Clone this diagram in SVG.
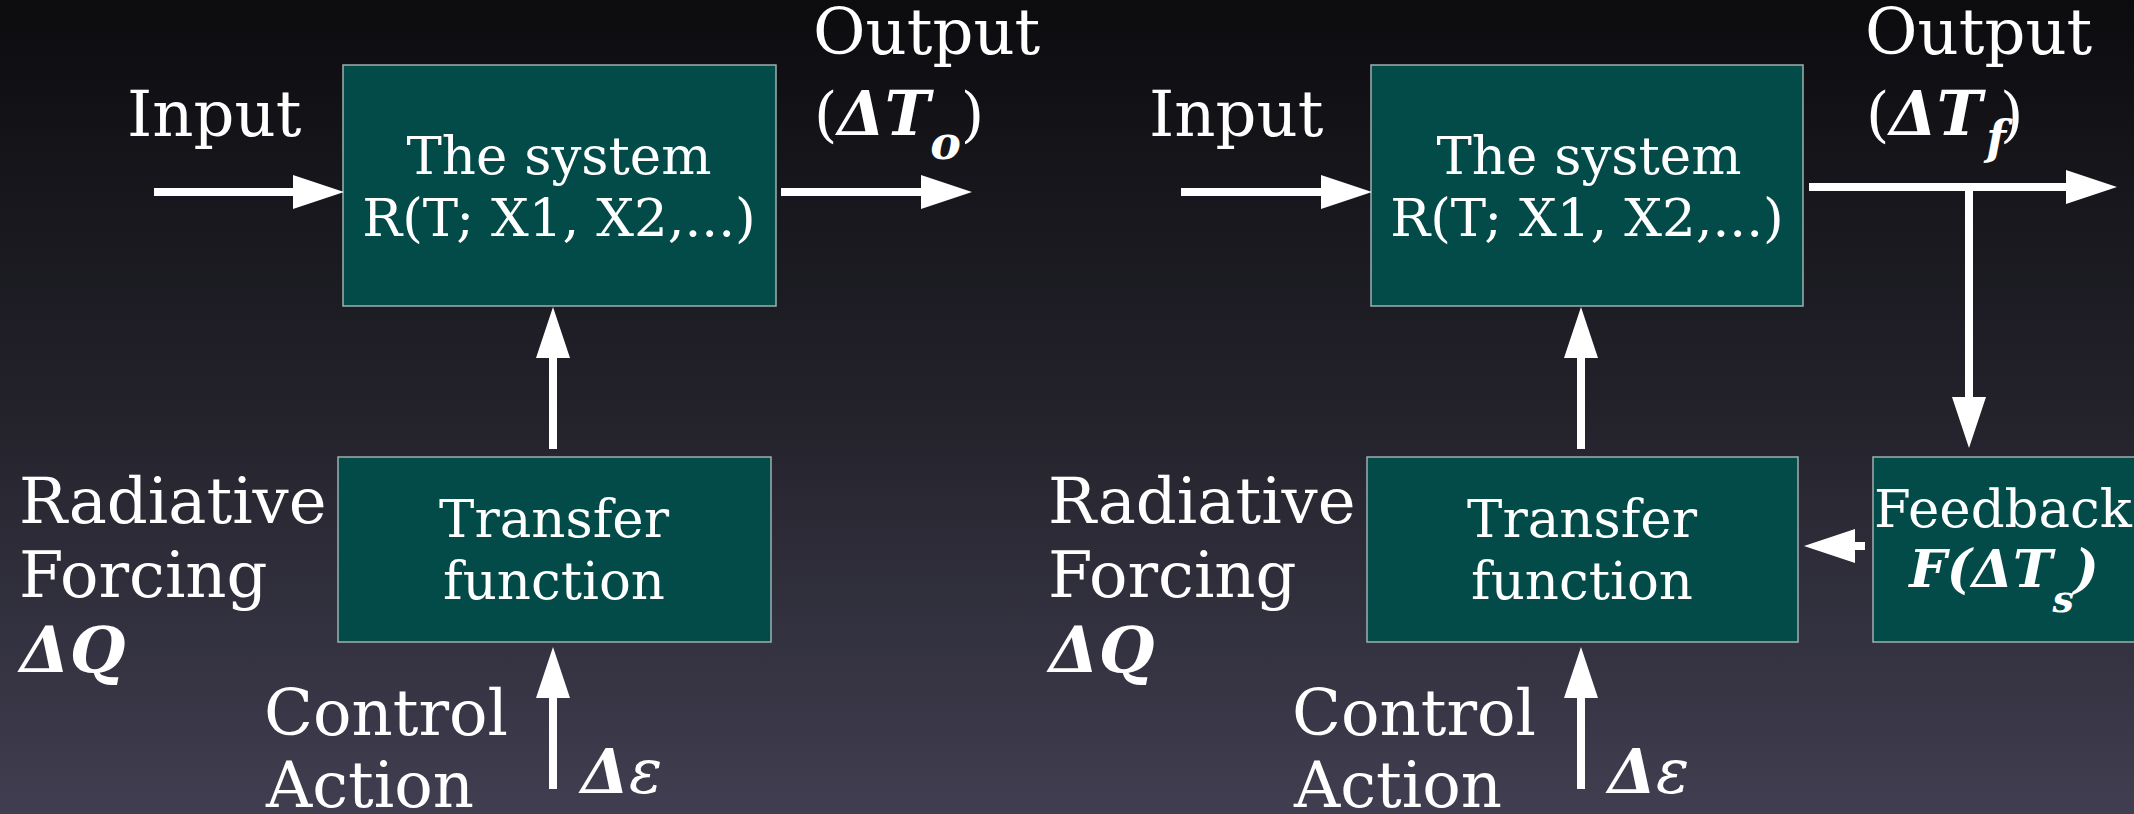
<svg xmlns="http://www.w3.org/2000/svg" width="2134" height="814" viewBox="0 0 2134 814">
  <defs>
    <linearGradient id="bg" x1="0" y1="0" x2="0" y2="1">
      <stop offset="0" stop-color="#0c0c0f"/>
      <stop offset="0.5" stop-color="#23222b"/>
      <stop offset="1" stop-color="#403e50"/>
    </linearGradient>
    <marker id="head" markerUnits="userSpaceOnUse" markerWidth="52" markerHeight="34" viewBox="0 0 52 34" refX="1" refY="17" orient="auto">
      <path d="M0,0 L51,17 L0,34 Z" fill="#ffffff"/>
    </marker>
    <style>
      text { font-family: "DejaVu Serif", "Liberation Serif", serif; fill: #ffffff; }
      .lbl { font-size: 64px; }
      .box { fill: #024b49; stroke: #9fb0b0; stroke-width: 1.5; }
      .in { font-size: 53px; text-anchor: middle; }
      .math { font-weight: bold; font-style: italic; }
      .sub { font-weight: bold; font-style: italic; }
      .eps { font-style: italic; font-weight: normal; }
      .wire { stroke: #ffffff; stroke-width: 8; fill: none; marker-end: url(#head); }
    </style>
  </defs>

  <rect x="0" y="0" width="2134" height="814" fill="url(#bg)"/>

  <!-- left: open-loop system -->
  <g id="system-open">
    <rect class="box" x="343" y="65" width="433" height="241"/>
    <text class="in" x="559" y="174">The system</text>
    <text class="in" x="559" y="236">R(T; X1, X2,...)</text>
  </g>
  <g id="transfer-open">
    <rect class="box" x="338" y="457" width="433" height="185"/>
    <text class="in" x="554" y="537">Transfer</text>
    <text class="in" x="554" y="599">function</text>
  </g>
  <g id="input-open">
    <text class="lbl" x="127" y="136">Input</text>
  </g>
  <g id="output-open">
    <text class="lbl" x="813" y="54">Output</text>
    <text x="814" y="135" font-size="60">(<tspan class="math" font-size="61">ΔT</tspan><tspan class="sub" font-size="46" dy="24">o</tspan><tspan dy="-24">)</tspan></text>
  </g>
  <g id="forcing-open">
    <text class="lbl" x="19" y="523">Radiative</text>
    <text class="lbl" x="19" y="597">Forcing</text>
    <text class="math" x="20" y="672" font-size="64">ΔQ</text>
  </g>
  <g id="control-open">
    <text class="lbl" x="264" y="735">Control</text>
    <text class="lbl" x="266" y="807">Action</text>
    <text x="581" y="793" font-size="62"><tspan class="math">Δ</tspan><tspan class="eps">ε</tspan></text>
  </g>

  <!-- right: closed-loop system with feedback -->
  <g id="system-closed">
    <rect class="box" x="1371" y="65" width="432" height="241"/>
    <text class="in" x="1589" y="174">The system</text>
    <text class="in" x="1587" y="236">R(T; X1, X2,...)</text>
  </g>
  <g id="transfer-closed">
    <rect class="box" x="1367" y="457" width="431" height="185"/>
    <text class="in" x="1582" y="537">Transfer</text>
    <text class="in" x="1582" y="599">function</text>
  </g>
  <g id="feedback">
    <rect class="box" x="1873" y="457" width="262" height="185"/>
    <text class="in" x="2003" y="527">Feedback</text>
    <text class="in math" x="2004" y="587" font-size="48">F(ΔT<tspan font-size="38" dy="25">s</tspan><tspan dy="-25">)</tspan></text>
  </g>
  <g id="input-closed">
    <text class="lbl" x="1149" y="136">Input</text>
  </g>
  <g id="output-closed">
    <text class="lbl" x="1865" y="54">Output</text>
    <text x="1866" y="135" font-size="60">(<tspan class="math" font-size="61">ΔT</tspan><tspan class="sub" font-size="46" dy="19" dx="4">f</tspan><tspan dy="-19" dx="-6">)</tspan></text>
  </g>
  <g id="forcing-closed">
    <text class="lbl" x="1048" y="523">Radiative</text>
    <text class="lbl" x="1048" y="597">Forcing</text>
    <text class="math" x="1049" y="672" font-size="64">ΔQ</text>
  </g>
  <g id="control-closed">
    <text class="lbl" x="1292" y="735">Control</text>
    <text class="lbl" x="1294" y="807">Action</text>
    <text x="1608" y="793" font-size="62"><tspan class="math">Δ</tspan><tspan class="eps">ε</tspan></text>
  </g>

  <!-- connectors -->
  <g id="connectors">
    <line class="wire" x1="154" y1="192" x2="294" y2="192"/>
    <line class="wire" x1="781" y1="192" x2="922" y2="192"/>
    <line class="wire" x1="553" y1="449" x2="553" y2="357"/>
    <line class="wire" x1="553" y1="789" x2="553" y2="697"/>

    <line class="wire" x1="1181" y1="192" x2="1322" y2="192"/>
    <line class="wire" x1="1809" y1="187" x2="2067" y2="187"/>
    <line class="wire" x1="1969" y1="191" x2="1969" y2="398"/>
    <line class="wire" x1="1581" y1="449" x2="1581" y2="357"/>
    <line class="wire" x1="1581" y1="789" x2="1581" y2="697"/>
    <line class="wire" x1="1865" y1="546" x2="1854" y2="546"/>
  </g>
</svg>
